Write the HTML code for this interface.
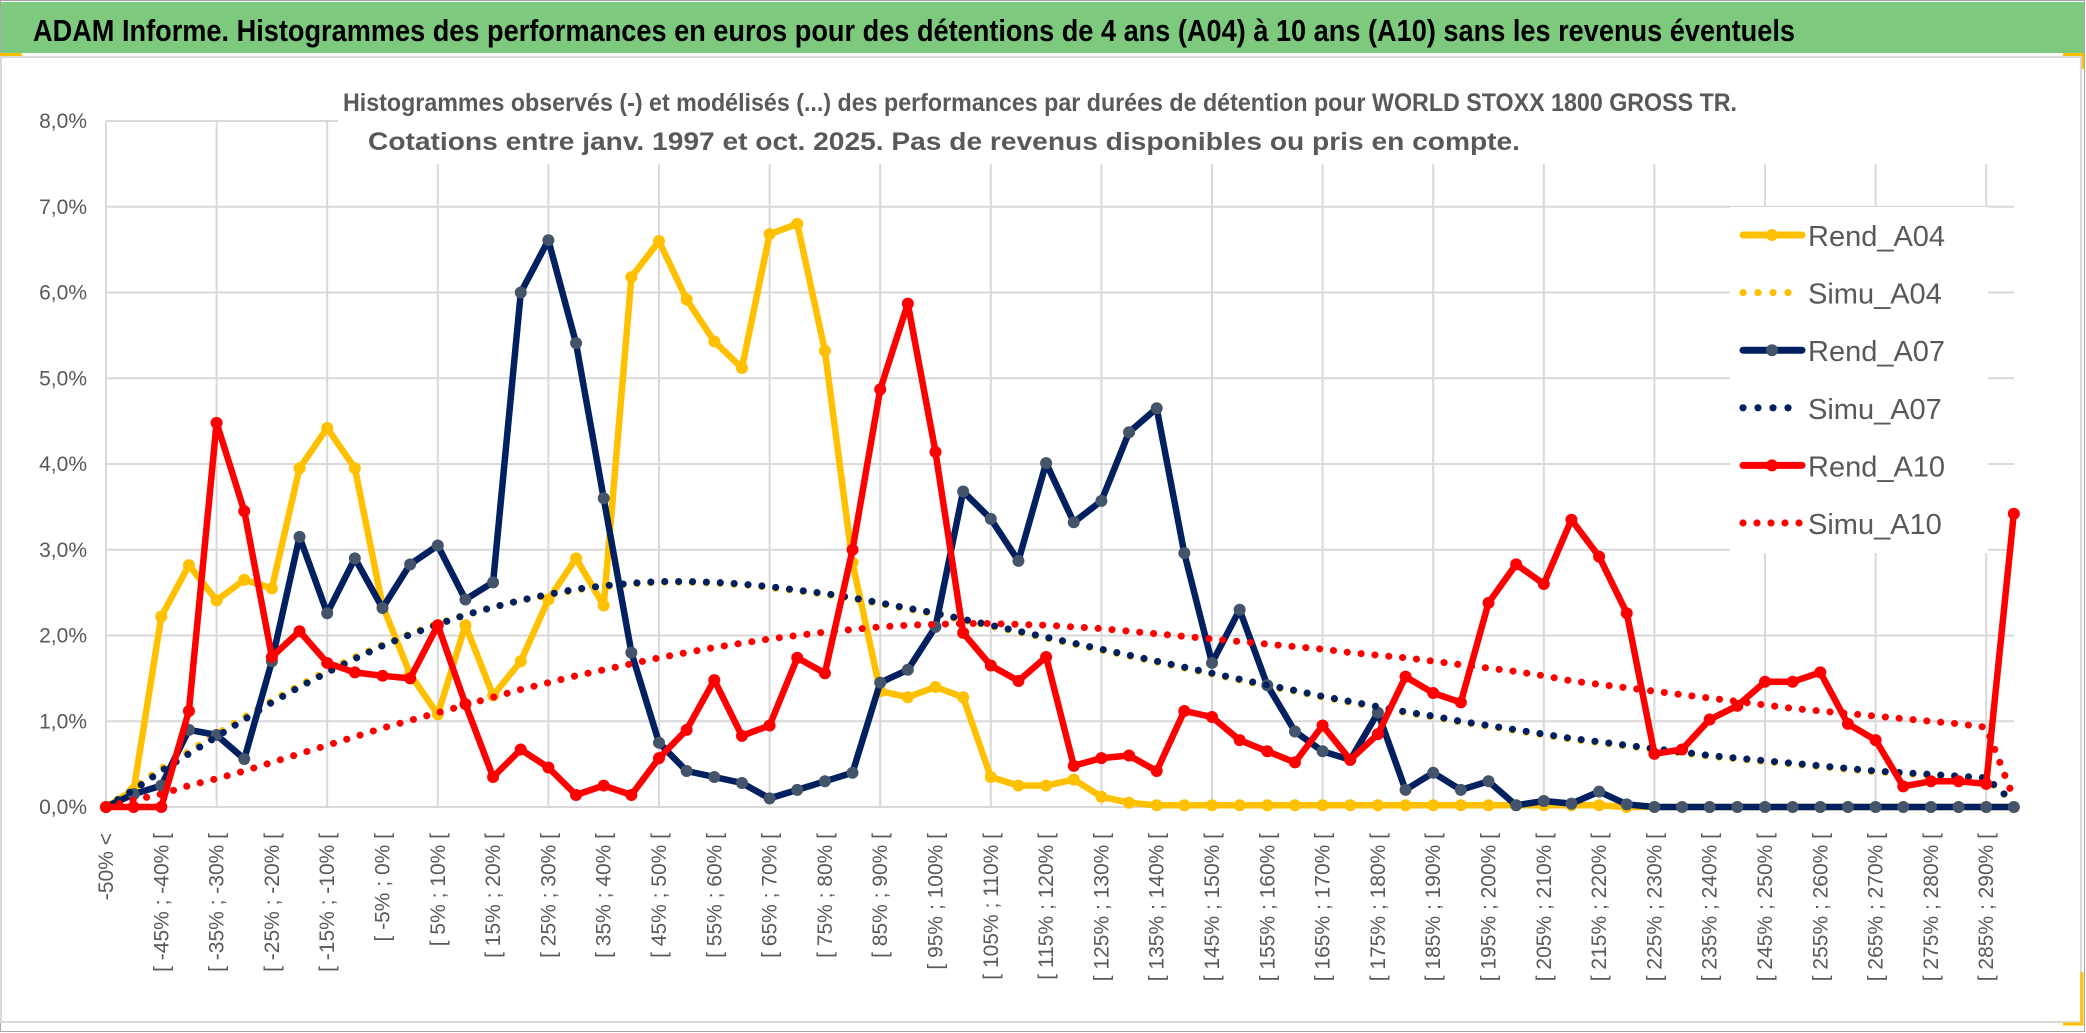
<!DOCTYPE html>
<html><head><meta charset="utf-8"><style>
html,body{margin:0;padding:0;background:#fff;}
svg{display:block;}
text{font-family:"Liberation Sans",sans-serif;}
</style></head><body>
<svg id="chart" width="2086" height="1033" viewBox="0 0 2086 1033" xmlns="http://www.w3.org/2000/svg">
<rect x="0" y="0" width="2086" height="1033" fill="#fff"/>
<rect x="0.5" y="0.5" width="2084" height="1031" fill="none" stroke="#a6a6a6" stroke-width="1"/>
<rect x="1" y="2" width="2083" height="51" fill="#7dc97d"/>
<text x="33" y="41" font-size="31" font-weight="bold" fill="#000" textLength="1762" lengthAdjust="spacingAndGlyphs">ADAM Informe. Histogrammes des performances en euros pour des détentions de 4 ans (A04) à 10 ans (A10) sans les revenus éventuels</text>
<rect x="0" y="53" width="22" height="3" fill="#ffc000"/>
<rect x="2063" y="53" width="20" height="3" fill="#ffc000"/>
<rect x="2081" y="53" width="3" height="16" fill="#ffc000"/>
<rect x="1" y="57" width="2080" height="965" fill="none" stroke="#d9d9d9" stroke-width="2"/>
<path d="M2082 972 V1024 H2063" fill="none" stroke="#ffc000" stroke-width="3"/>
<g id="grid"></g>
<text x="1040" y="111" font-size="25" font-weight="bold" fill="#595959" text-anchor="middle" textLength="1394" lengthAdjust="spacingAndGlyphs">Histogrammes observés (-) et modélisés (...) des performances par durées de détention pour WORLD STOXX 1800 GROSS TR.</text>
<text x="944" y="150" font-size="25" font-weight="bold" fill="#595959" text-anchor="middle" textLength="1152" lengthAdjust="spacingAndGlyphs">Cotations entre janv. 1997 et oct. 2025. Pas de revenus disponibles ou pris en compte.</text>
<g id="yaxis"></g>
<g id="xaxis"></g>
<g id="series"></g>
<g id="legend"></g>
</svg>
<script>
const yTicks = [0,1,2,3,4,5,6,7,8];
const yTickLabels = ["0,0%","1,0%","2,0%","3,0%","4,0%","5,0%","6,0%","7,0%","8,0%"];
const categories = ["-50% <"];
for (let i = 1; i < 70; i++) { const lo = -50 + 5 * (i - 1); categories.push("[ " + lo + "% ; " + (lo + 5) + "% ["); }
const rendA04 = [0,0.2,2.22,2.82,2.41,2.65,2.55,3.95,4.42,3.95,2.35,1.55,1.08,2.12,1.3,1.7,2.42,2.9,2.35,6.18,6.6,5.92,5.43,5.12,6.68,6.8,5.32,2.85,1.35,1.28,1.4,1.28,0.35,0.25,0.25,0.32,0.12,0.05,0.02,0.02,0.02,0.02,0.02,0.02,0.02,0.02,0.02,0.02,0.02,0.02,0.02,0.02,0.02,0.02,0.02,0,0,0,0,0,0,0,0,0,0,0,0,0,0,0];
const simuA04 = [0,0.22,0.45,0.65,0.85,1.05,1.24,1.42,1.59,1.75,1.89,2.02,2.14,2.24,2.33,2.41,2.47,2.53,2.57,2.6,2.62,2.62,2.61,2.59,2.56,2.52,2.48,2.43,2.37,2.31,2.25,2.18,2.11,2.04,1.97,1.9,1.83,1.76,1.69,1.62,1.55,1.48,1.41,1.35,1.28,1.22,1.16,1.1,1.05,0.99,0.94,0.89,0.84,0.79,0.75,0.71,0.67,0.63,0.59,0.56,0.53,0.5,0.47,0.44,0.41,0.39,0.37,0.35,0.33,0.05];
const rendA07 = [0,0.15,0.25,0.9,0.84,0.56,1.7,3.15,2.26,2.9,2.32,2.83,3.05,2.42,2.62,6.0,6.61,5.41,3.6,1.8,0.75,0.42,0.35,0.28,0.1,0.2,0.3,0.4,1.45,1.6,2.1,3.68,3.36,2.87,4.01,3.32,3.57,4.37,4.65,2.96,1.68,2.3,1.42,0.88,0.65,0.55,1.1,0.2,0.4,0.2,0.3,0.02,0.07,0.04,0.18,0.03,0,0,0,0,0,0,0,0,0,0,0,0,0,0];
const simuA07 = [0,0.2,0.42,0.62,0.82,1.02,1.22,1.4,1.57,1.73,1.88,2.01,2.13,2.24,2.33,2.41,2.48,2.54,2.58,2.61,2.63,2.63,2.62,2.6,2.57,2.53,2.49,2.44,2.38,2.32,2.26,2.19,2.12,2.05,1.98,1.91,1.84,1.77,1.7,1.63,1.56,1.49,1.42,1.36,1.29,1.23,1.17,1.11,1.06,1.0,0.95,0.9,0.85,0.8,0.76,0.72,0.68,0.64,0.6,0.57,0.54,0.51,0.48,0.45,0.42,0.4,0.38,0.36,0.34,0.05];
const rendA10 = [0,0,0,1.12,4.48,3.45,1.75,2.05,1.68,1.57,1.53,1.5,2.12,1.2,0.35,0.67,0.46,0.14,0.25,0.14,0.57,0.9,1.48,0.83,0.95,1.74,1.56,3.0,4.87,5.87,4.14,2.03,1.65,1.47,1.75,0.48,0.57,0.6,0.42,1.12,1.05,0.78,0.65,0.52,0.95,0.55,0.85,1.52,1.33,1.22,2.38,2.83,2.6,3.35,2.92,2.26,0.62,0.67,1.02,1.18,1.46,1.46,1.57,0.97,0.78,0.24,0.3,0.3,0.27,3.42];
const simuA10 = [0,0.08,0.15,0.25,0.33,0.42,0.52,0.62,0.72,0.82,0.92,1.01,1.1,1.19,1.28,1.37,1.45,1.53,1.6,1.67,1.74,1.8,1.86,1.91,1.96,2.0,2.04,2.07,2.1,2.12,2.13,2.14,2.14,2.13,2.12,2.1,2.08,2.05,2.02,1.99,1.96,1.93,1.9,1.87,1.84,1.8,1.77,1.74,1.7,1.66,1.62,1.58,1.53,1.47,1.43,1.39,1.35,1.31,1.27,1.23,1.19,1.15,1.12,1.09,1.06,1.03,1.0,0.97,0.93,0.1];
const seriesNames = ["Rend_A04","Simu_A04","Rend_A07","Simu_A07","Rend_A10","Simu_A10"];

const NS = "http://www.w3.org/2000/svg";
const X0 = 106, DX = 27.65, Y0 = 807, DY = 85.75, XR = 2014;
function xPos(i){ return X0 + DX * i; }
function yPos(v){ return Y0 - DY * v; }
function mk(tag, attrs, parent){ const e = document.createElementNS(NS, tag); for (const k in attrs) e.setAttribute(k, attrs[k]); parent.appendChild(e); return e; }

const grid = document.getElementById("grid");
yTicks.forEach(function(t){
  const l = mk("line", {x1: X0, x2: XR, y1: yPos(t), y2: yPos(t), stroke: "#d9d9d9", "stroke-width": 2}, grid);
  
  
});
for (let i = 0; i < categories.length; i += 4) {
  const l = mk("line", {x1: xPos(i), x2: xPos(i), y1: yPos(8), y2: Y0, stroke: "#d9d9d9", "stroke-width": 2}, grid);
  
  
}
mk("rect", {x: 338, y: 80, width: 1690, height: 84, fill: "#fff"}, grid);

const yax = document.getElementById("yaxis");
yTicks.forEach(function(t, k){
  const tx = mk("text", {x: 87, y: yPos(t) + 7, "font-size": 21, fill: "#595959", "text-anchor": "end"}, yax);
  tx.textContent = yTickLabels[k];
  
  
});

const xax = document.getElementById("xaxis");
categories.forEach(function(c, i){
  if (i % 2 !== 0) return;
  const tx = mk("text", {transform: "translate(" + (xPos(i) + 7) + ",833) rotate(-90)", "font-size": 21, fill: "#595959", "text-anchor": "end"}, xax);
  tx.textContent = c;
  
  
});

const ser = document.getElementById("series");
function pathOf(arr){ return arr.map(function(v, i){ return (i ? "L" : "M") + xPos(i).toFixed(1) + " " + yPos(v).toFixed(1); }).join(" "); }
function solid(arr, color, mcol, name){
  const g = mk("g", {}, ser);
  
  
  mk("path", {d: pathOf(arr), fill: "none", stroke: color, "stroke-width": 6.5, "stroke-linejoin": "round"}, g);
  arr.forEach(function(v, i){
    const c = mk("circle", {cx: xPos(i), cy: yPos(v), r: 6, fill: mcol}, g);
    
    
  });
}
function dotted(arr, color, name){
  const p = mk("path", {d: pathOf(arr), fill: "none", stroke: color, "stroke-width": 7, "stroke-linecap": "round", "stroke-dasharray": "0.1 13.8"}, ser);
  
  
}
solid(rendA04, "#ffc000", "#ffc000", "line-rend-a04");
dotted(simuA04, "#ffc000", "line-simu-a04");
solid(rendA07, "#002060", "#44546a", "line-rend-a07");
dotted(simuA07, "#002060", "line-simu-a07");
solid(rendA10, "#ff0000", "#ff0000", "line-rend-a10");
dotted(simuA10, "#ff0000", "line-simu-a10");

const leg = document.getElementById("legend");
mk("rect", {x: 1730, y: 207, width: 258, height: 346, fill: "#fff"}, leg);
const legColors = ["#ffc000","#ffc000","#002060","#002060","#ff0000","#ff0000"];
const legMarker = ["#ffc000",null,"#44546a",null,"#ff0000",null];
seriesNames.forEach(function(n, k){
  const cy = 235 + 57.6 * k;
  const g = mk("g", {}, leg);
  
  
  if (k % 2 === 0) {
    mk("line", {x1: 1743, x2: 1802, y1: cy, y2: cy, stroke: legColors[k], "stroke-width": 7, "stroke-linecap": "round"}, g);
    mk("circle", {cx: 1772, cy: cy, r: 6, fill: legMarker[k]}, g);
  } else {
    const nd = k === 5 ? 5 : 4;
    const sp = k === 5 ? 14 : 15;
    for (let d = 0; d < nd; d++) mk("circle", {cx: 1743 + d * sp, cy: cy, r: 3.6, fill: legColors[k]}, g);
  }
  const t = mk("text", {x: 1808, y: cy + 11, "font-size": 29, fill: "#595959"}, g);
  t.textContent = n;
});
</script>
</body></html>
